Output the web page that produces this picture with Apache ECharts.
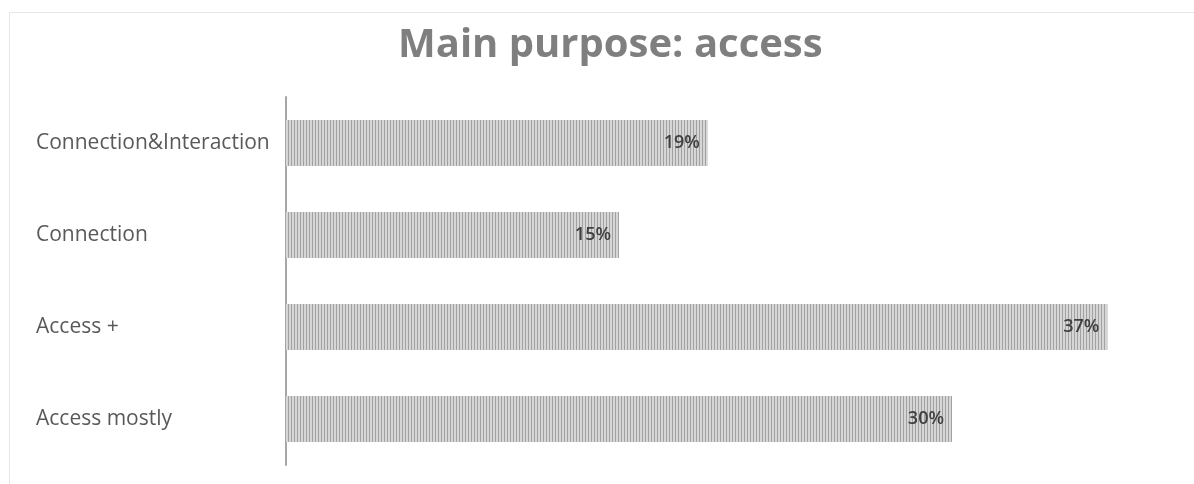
<!DOCTYPE html>
<html>
<head>
<meta charset="utf-8">
<script src="https://cdn.jsdelivr.net/npm/echarts@6/dist/echarts.min.js"></script>
<style>
  html, body { margin: 0; padding: 0; background: #ffffff; }
  #chart { width: 1194px; height: 484px; }
</style>
</head>
<body>
<div id="chart"></div>
<script>
// Share of respondents by main purpose (bottom to top on the axis)
const categories = ['Access mostly', 'Access +', 'Connection', 'Connection&Interaction'];
const shares = [30, 37, 15, 19];

// Vertical hatching used to fill the bars
function stripePattern() {
  const c = document.createElement('canvas');
  c.width = 3; c.height = 4;
  const ctx = c.getContext('2d');
  ctx.fillStyle = '#d6d6d6';
  ctx.fillRect(0, 0, 3, 4);
  ctx.fillStyle = '#a2a2a2';
  ctx.fillRect(0, 0, 1, 4);
  return c;
}

const chart = echarts.init(document.getElementById('chart'), null, { renderer: 'canvas' });
chart.setOption({
  animation: false,
  backgroundColor: '#ffffff',
  title: {
    text: 'Main purpose: access',
    left: 393,
    top: 21,
    textStyle: {
      fontFamily: 'Open Sans',
      fontWeight: 'bold',
      fontSize: 40,
      color: '#7f7f7f'
    }
  },
  graphic: [{
    type: 'rect',
    shape: { x: 9.5, y: 12.5, width: 1200, height: 500 },
    style: { fill: 'none', stroke: '#e6e6e6', lineWidth: 1 },
    silent: true
  }],
  grid: { left: 286, top: 97, width: 888, bottom: 19, containLabel: false },
  xAxis: {
    type: 'value',
    min: 0,
    max: 40,
    show: false
  },
  yAxis: {
    type: 'category',
    data: categories,
    axisLine: { show: true, lineStyle: { color: '#a6a6a6', width: 2 } },
    axisTick: { show: false },
    axisLabel: {
      fontFamily: 'Open Sans',
      fontSize: 21,
      color: '#595959',
      align: 'left',
      margin: 250
    }
  },
  series: [{
    type: 'bar',
    data: shares,
    barCategoryGap: '50%',
    itemStyle: { color: { image: stripePattern(), repeat: 'repeat' } },
    label: {
      show: true,
      position: 'insideRight',
      distance: 8,
      formatter: '{c}%',
      fontFamily: 'Open Sans',
      fontSize: 18,
      fontWeight: 600,
      color: '#404040'
    }
  }]
});
</script>
</body>
</html>
